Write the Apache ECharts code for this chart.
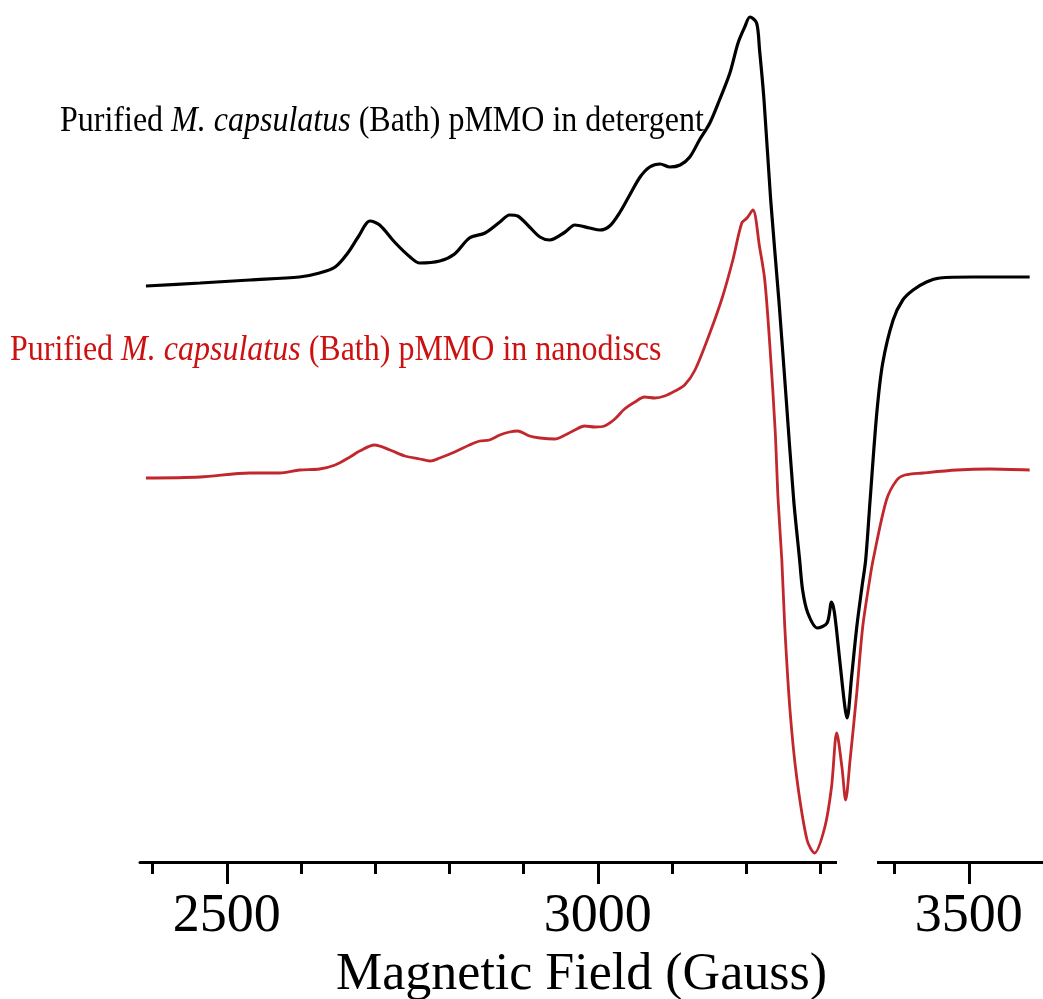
<!DOCTYPE html>
<html>
<head>
<meta charset="utf-8">
<title>EPR spectra of pMMO</title>
<script src="https://cdn.jsdelivr.net/npm/echarts@6/dist/echarts.min.js"></script>
<style>
  html, body { margin: 0; padding: 0; background: #ffffff; }
  #chart { width: 1043px; height: 999px; }
</style>
</head>
<body>
<div id="chart"></div>
<script>
// Magnetic field (G) and derivative signal (a.u., stacked offsets) for the detergent sample
const fieldDetergent = [
  2391, 2464, 2531, 2598, 2625, 2646, 2663, 2677, 2693, 2706, 2726, 2747, 2760, 2787,
  2807, 2827, 2848, 2868, 2881, 2892, 2908, 2922, 2935, 2956, 2969, 2989, 3003, 3016,
  3030, 3043, 3057, 3070, 3084, 3097, 3111, 3124, 3137, 3151, 3164, 3178, 3189, 3198,
  3205, 3214, 3218, 3224, 3233, 3244, 3254, 3264, 3272, 3276, 3283, 3296, 3309, 3315,
  3319, 3326, 3333, 3336, 3342, 3349, 3356, 3361, 3367, 3376, 3384, 3398, 3411, 3425,
  3443, 3461, 3505, 3551, 3582
];
const signalDetergent = [
  576, 579, 582, 585, 589, 595, 609, 625, 641, 637, 620, 605, 599, 601,
  608, 624, 629, 640, 647, 646, 635, 625, 622, 630, 637, 634, 632, 636,
  650, 667, 685, 695, 698, 695, 697, 705, 722, 739, 762, 789, 819, 835,
  845, 839, 812, 762, 662, 562, 462, 362, 302, 272, 249, 234, 239, 260,
  249, 202, 155, 144, 185, 235, 275, 302, 362, 449, 499, 542, 562, 572,
  580, 584, 585, 585, 585
];

// Magnetic field (G) and derivative signal (a.u.) for the nanodisc sample
const fieldNanodisc = [
  2391, 2464, 2531, 2571, 2598, 2625, 2646, 2666, 2679, 2699, 2720, 2740, 2760, 2774,
  2787, 2807, 2827, 2841, 2854, 2868, 2881, 2892, 2908, 2922, 2942, 2956, 2969, 2982,
  2996, 3009, 3023, 3036, 3050, 3063, 3077, 3090, 3104, 3117, 3131, 3151, 3168, 3182,
  3194, 3201, 3209, 3218, 3225, 3232, 3239, 3243, 3248, 3252, 3259, 3268, 3282,
  3292, 3306, 3315, 3322, 3329, 3334, 3340, 3349, 3357, 3367, 3371, 3389, 3403, 3414,
  3438, 3484, 3528, 3582
];
const signalNanodisc = [
  384, 385, 389, 389, 392, 393, 397, 405, 411, 417, 412, 406, 403, 401,
  404, 410, 417, 421, 422, 427, 430, 431, 426, 424, 423, 427, 432, 436,
  435, 436, 443, 453, 460, 465, 464, 466, 471, 477, 492, 529, 565, 602,
  639, 644, 652, 615, 582, 515, 432, 362, 302, 235, 152, 85, 22,
  9, 35, 75, 129, 95, 62, 102, 169, 235, 285, 302, 362, 382, 387,
  389, 392, 393, 392
];

// Axis ticks
const majorTicks = [2500, 3000, 3500];
const minorTicks = [2400, 2600, 2700, 2800, 2900, 3100, 3200, 3300, 3400];

const fieldMin = 2383;
const fieldMax = 3600;

const zip = (xs, ys) => xs.map((x, i) => [x, ys[i]]);

const serif = 'Liberation Serif, Times New Roman, serif';
const curveRed = '#c1272d';
const labelRed = '#cc1111';

const chart = echarts.init(document.getElementById('chart'), null, { renderer: 'canvas' });

chart.setOption({
  animation: false,
  backgroundColor: '#ffffff',
  grid: { left: 140, right: 0, top: 0, bottom: 137, containLabel: false, outerBoundsMode: 'none' },
  xAxis: [
    {
      type: 'value',
      position: 'bottom',
      min: fieldMin,
      max: fieldMax,
      name: 'Magnetic Field (Gauss)',
      nameLocation: 'middle',
      nameGap: 77,
      nameTextStyle: { fontFamily: serif, fontSize: 52, color: '#000', padding: [0, 20, 0, 0] },
      axisLine: { show: true, lineStyle: { color: '#000', width: 3 } },
      axisTick: { show: true, customValues: majorTicks, length: 22, lineStyle: { color: '#000', width: 3 } },
      axisLabel: {
        show: true,
        customValues: majorTicks,
        margin: 28,
        fontFamily: serif,
        fontSize: 54,
        color: '#000',
        formatter: (v) => String(v)
      },
      splitLine: { show: false }
    },
    {
      type: 'value',
      position: 'bottom',
      min: fieldMin,
      max: fieldMax,
      axisLine: { show: false },
      axisTick: { show: true, customValues: minorTicks, length: 12, lineStyle: { color: '#000', width: 3 } },
      axisLabel: { show: false },
      splitLine: { show: false }
    }
  ],
  yAxis: {
    type: 'value',
    min: 0,
    max: 862,
    show: false
  },
  series: [
    {
      name: 'detergent',
      type: 'line',
      xAxisIndex: 0,
      data: zip(fieldDetergent, signalDetergent),
      showSymbol: false,
      smooth: 0.3,
      lineStyle: { color: '#000000', width: 3.2 },
      z: 3
    },
    {
      name: 'nanodiscs',
      type: 'line',
      xAxisIndex: 0,
      data: zip(fieldNanodisc, signalNanodisc),
      showSymbol: false,
      smooth: 0.3,
      lineStyle: { color: curveRed, width: 2.8 },
      z: 2
    }
  ],
  graphic: [
    {
      type: 'text',
      x: 60,
      y: 121,
      scaleY: 1.15,
      z: 10,
      style: {
        text: '{r|Purified }{i|M. capsulatus}{r| (Bath) pMMO in detergent}',
        verticalAlign: 'middle',
        align: 'left',
        rich: {
          r: { fontFamily: serif, fontSize: 32, fill: '#000', color: '#000' },
          i: { fontFamily: serif, fontSize: 32, fontStyle: 'italic', fill: '#000', color: '#000' }
        }
      }
    },
    {
      type: 'text',
      x: 10,
      y: 350,
      scaleY: 1.15,
      z: 10,
      style: {
        text: '{r|Purified }{i|M. capsulatus}{r| (Bath) pMMO in nanodiscs}',
        verticalAlign: 'middle',
        align: 'left',
        rich: {
          r: { fontFamily: serif, fontSize: 32, fill: labelRed, color: labelRed },
          i: { fontFamily: serif, fontSize: 32, fontStyle: 'italic', fill: labelRed, color: labelRed }
        }
      }
    },
    {
      // small break in the axis line
      type: 'rect',
      z: 20,
      shape: { x: 837, y: 858, width: 40, height: 8 },
      style: { fill: '#ffffff' }
    }
  ]
});
</script>
</body>
</html>
